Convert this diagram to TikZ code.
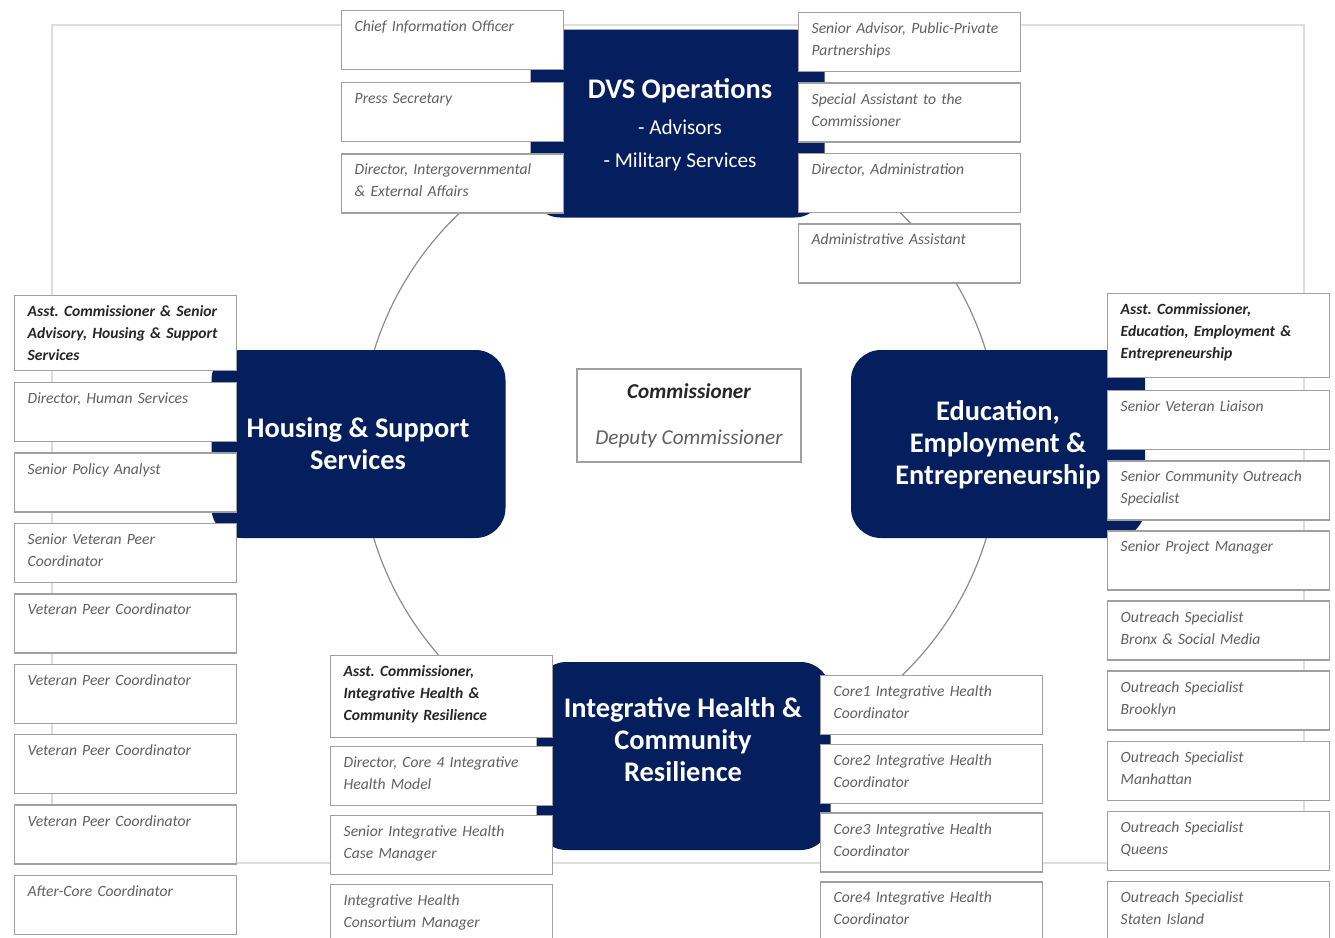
\documentclass[tikz,border=0pt]{standalone}
\usepackage{fontspec}
\setmainfont{Carlito}
\usepackage{tikz}
\usetikzlibrary{
	positioning
}

\definecolor{dvsnavy}{RGB}{4,30,94}
\definecolor{boxgray}{RGB}{160,160,160}
\definecolor{posttext}{RGB}{96,96,96}
\definecolor{leadtext}{RGB}{38,38,38}
\definecolor{framegray}{RGB}{222,222,222}
\definecolor{ringgray}{RGB}{140,140,140}

\newcommand{\subline}[1]{{\mdseries\fontsize{10.6}{12}\selectfont #1}}

\frenchspacing

\begin{document}
\begin{tikzpicture}[
		x=0.5pt,y=-0.5pt,
		frame/.style={draw=framegray,line width=0.6pt},
		ring/.style={draw=ringgray,line width=0.6pt},
		block/.style={fill=dvsnavy,rounded corners=15pt,minimum width=147pt,minimum height=94pt,inner sep=0pt},
		head/.style={text=white,align=center,font=\fontsize{14.2}{16}\selectfont\bfseries},
		post/.style={draw=boxgray,fill=white,line width=0.7pt,text=posttext,align=left,
			text width=98pt,inner xsep=6.5pt,inner ysep=3pt,text height=7.5pt,text depth=16pt,
			font=\fontsize{7.8}{11}\selectfont\itshape},
		lead/.style={post,text=leadtext,font=\fontsize{7.8}{11}\selectfont\bfseries\itshape},
		chief/.style={draw=boxgray,fill=white,line width=0.9pt,align=center,text=leadtext,
			minimum width=112pt,minimum height=46.5pt,font=\fontsize{10.6}{12}\selectfont\itshape}
	]
		\useasboundingbox (0,0) rectangle (1335,938);
		\clip (0,0) rectangle (1335,938);

		\draw[frame] (52,25) rectangle (1304,863);
		\draw[ring] (680,445) circle[radius=320];

		\path
			node[block] (dvs) at (677.5,123.5) {}
			node[block] (hss) at (358.5,444)   {}
			node[block] (eee) at (998,444)     {}
			node[block] (ihc) at (683.5,756)   {}

			node[head] (dvshead) at (680,125) {DVS Operations\\[2pt]\subline{- Advisors}\\[0.5pt]\subline{- Military Services}}
			node[head] (hsshead) at (358,444) {Housing \& Support\\Services}
			node[head] (eeehead) at (998,445) {Education,\\Employment \&\\Entrepreneurship}
			node[head] (ihchead) at (683,740) {Integrative Health \&\\Community\\Resilience}

			node[chief] (comm) at (689,415.5) {\textbf{Commissioner}\\[11pt]{\color{posttext}Deputy Commissioner}}

			% DVS Operations
			node[post,anchor=north west]    (tl1) at (341,10) {Chief Information Officer}
			node[post,below=5.6pt of tl1]   (tl2) {Press Secretary}
			node[post,below=5.6pt of tl2]   (tl3) {Director, Intergovernmental\\\& External Affairs}

			node[post,anchor=north west]    (tr1) at (798,12) {Senior Advisor, Public-Private\\Partnerships}
			node[post,below=5pt of tr1]     (tr2) {Special Assistant to the\\Commissioner}
			node[post,below=5pt of tr2]     (tr3) {Director, Administration}
			node[post,below=5pt of tr3]     (tr4) {Administrative Assistant}

			% Housing & Support Services
			node[lead,text depth=23.8pt,anchor=north west] (hs1) at (14,295) {Asst. Commissioner \& Senior\\Advisory, Housing \& Support\\Services}
			node[post,below=5.5pt of hs1]   (hs2) {Director, Human Services}
			node[post,below=5pt of hs2]     (hs3) {Senior Policy Analyst}
			node[post,below=5pt of hs3]     (hs4) {Senior Veteran Peer\\Coordinator}
			node[post,below=5pt of hs4]     (hs5) {Veteran Peer Coordinator}
			node[post,below=5pt of hs5]     (hs6) {Veteran Peer Coordinator}
			node[post,below=5pt of hs6]     (hs7) {Veteran Peer Coordinator}
			node[post,below=5pt of hs7]     (hs8) {Veteran Peer Coordinator}
			node[post,below=5pt of hs8]     (hs9) {After-Core Coordinator}

			% Education, Employment & Entrepreneurship
			node[lead,text depth=28.5pt,anchor=north west] (ee1) at (1107,293) {Asst. Commissioner,\\Education, Employment \&\\Entrepreneurship}
			node[post,below=5.8pt of ee1]   (ee2) {Senior Veteran Liaison}
			node[post,below=4.85pt of ee2]  (ee3) {Senior Community Outreach\\Specialist}
			node[post,below=4.85pt of ee3]  (ee4) {Senior Project Manager}
			node[post,below=4.85pt of ee4]  (ee5) {Outreach Specialist\\Bronx \& Social Media}
			node[post,below=4.85pt of ee5]  (ee6) {Outreach Specialist\\Brooklyn}
			node[post,below=4.85pt of ee6]  (ee7) {Outreach Specialist\\Manhattan}
			node[post,below=4.85pt of ee7]  (ee8) {Outreach Specialist\\Queens}
			node[post,below=4.85pt of ee8]  (ee9) {Outreach Specialist\\Staten Island}

			% Integrative Health & Community Resilience
			node[lead,text depth=27.5pt,anchor=north west] (il1) at (330,655) {Asst. Commissioner,\\Integrative Health \&\\Community Resilience}
			node[post,below=3.8pt of il1]   (il2) {Director, Core 4 Integrative\\Health Model}
			node[post,below=4.3pt of il2]   (il3) {Senior Integrative Health\\Case Manager}
			node[post,below=4.3pt of il3]   (il4) {Integrative Health\\Consortium Manager}

			node[post,anchor=north west]    (ir1) at (820,675) {Core1 Integrative Health\\Coordinator}
			node[post,below=4.15pt of ir1]  (ir2) {Core2 Integrative Health\\Coordinator}
			node[post,below=4.15pt of ir2]  (ir3) {Core3 Integrative Health\\Coordinator}
			node[post,below=4.15pt of ir3]  (ir4) {Core4 Integrative Health\\Coordinator}
		;
	\end{tikzpicture}
\end{document}
